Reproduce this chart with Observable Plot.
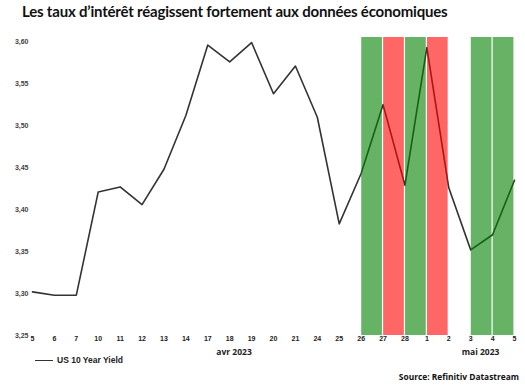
<!DOCTYPE html>
<html><head><meta charset="utf-8">
<script src="https://cdn.jsdelivr.net/npm/d3@7"></script>
<script src="https://cdn.jsdelivr.net/npm/@observablehq/plot@0.6"></script>
<style>
body{margin:0;background:#fff;}
#wrap{position:relative;width:525px;height:385px;overflow:hidden;}
#title{position:absolute;left:22px;top:2px;font-family:Lato,sans-serif;font-weight:700;font-size:15px;color:#111;white-space:nowrap;letter-spacing:-0.2px;}
#legend{position:absolute;left:35px;top:355px;font-family:"Liberation Sans",Arial,sans-serif;font-weight:700;font-size:8.5px;color:#222;display:flex;align-items:center;}
#legend span.l{display:inline-block;width:18px;height:0;border-top:1.5px solid #333;margin-right:4px;}
#source{position:absolute;right:6px;top:371px;font-family:"Open Sans",sans-serif;font-weight:700;font-size:8.4px;color:#111;}
#chart{position:absolute;left:0;top:0;}
</style></head>
<body>
<div id="wrap">
<div id="chart"></div>
<div id="title">Les taux d’intérêt réagissent fortement aux données économiques</div>
<div id="legend"><span class="l"></span>US 10 Year Yield</div>
<div id="source">Source: Refinitiv Datastream</div>
</div>
<script>
const days = ["5","6","7","10","11","12","13","14","17","18","19","20","21","24","25","26","27","28","1","2","3","4","5"];
const yields = [3.302,3.298,3.298,3.421,3.427,3.406,3.448,3.512,3.596,3.576,3.599,3.538,3.571,3.510,3.383,3.443,3.525,3.429,3.593,3.426,3.352,3.370,3.435];
const bandStart = ["26","27","28","1","3","4"];
const bandEnd   = ["27","28","1","2","4","5"];
const bandKind  = ["hausse","baisse","hausse","baisse","hausse","hausse"];
const months = ["avr 2023","mai 2023"];
const monthAt = [9.2, 20.45];
const yTicks = [3.25,3.30,3.35,3.40,3.45,3.50,3.55,3.60];

const idxOf = (lab, fromIdx) => days.indexOf(lab, fromIdx);
const bands = bandStart.map((s,i) => {
  const a = idxOf(s, 15);
  const b = idxOf(bandEnd[i], a + 1);
  return {x1: a, x2: b, kind: bandKind[i]};
});
const series = yields.map((v,i) => ({i, v}));
const monthData = months.map((m,k) => ({m, x: monthAt[k]}));

const fmt = d => d3.format(".2f")(d).replace(".", ",");

const plot = Plot.plot({
  width: 525,
  height: 385,
  marginTop: 37,
  marginBottom: 50,
  marginLeft: 32,
  marginRight: 11,
  style: {fontFamily: "'Liberation Sans', Arial, sans-serif", background: "transparent"},
  x: {domain: [0, days.length - 1], ticks: d3.range(days.length), tickFormat: i => days[i], tickSize: 0, tickPadding: 1, label: null},
  y: {domain: [3.25, 3.605], ticks: yTicks, tickFormat: fmt, tickSize: 0, tickPadding: 4, label: null},
  marks: [
    Plot.line(series, {x: "i", y: "v", stroke: "#333", strokeWidth: 1.6}),
    Plot.rect(bands, {x1: "x1", x2: "x2", fill: d => d.kind === "hausse" ? "#008000" : "#ff0000", fillOpacity: 0.6, insetLeft: 0.6, insetRight: 0.6}),
    Plot.axisX({ticks: d3.range(days.length), tickFormat: i => days[i], tickSize: 0, tickPadding: 1, fontSize: 7, fontWeight: 700, fill: "#222", label: null}),
    Plot.axisY({ticks: yTicks, tickFormat: fmt, tickSize: 0, tickPadding: 4, fontSize: 7, fontWeight: 700, fill: "#444", label: null}),
    Plot.text(monthData, {x: "x", text: "m", frameAnchor: "bottom", dy: 19, fontSize: 8.5, fontWeight: 700, fill: "#222", fontFamily: "'Open Sans', sans-serif"})
  ]
});
document.getElementById("chart").appendChild(plot);
</script>
</body></html>
